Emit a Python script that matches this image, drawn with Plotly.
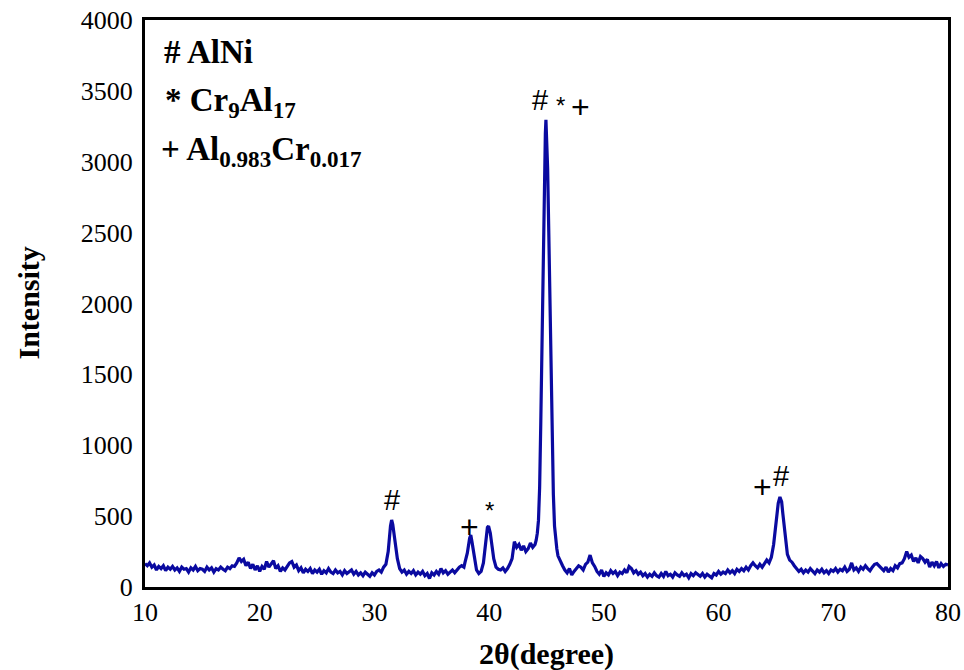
import plotly.graph_objects as go

two_theta = [
    10.0, 10.2, 10.4, 10.6, 10.8, 11.0, 11.2, 11.4, 11.6, 11.8,
    12.0, 12.2, 12.4, 12.6, 12.8, 13.0, 13.2, 13.4, 13.6, 13.8,
    14.0, 14.2, 14.4, 14.6, 14.8, 15.0, 15.2, 15.4, 15.6, 15.8,
    16.0, 16.2, 16.4, 16.6, 16.8, 17.0, 17.2, 17.4, 17.6, 17.8,
    18.0, 18.2, 18.4, 18.6, 18.8, 19.0, 19.2, 19.4, 19.6, 19.8,
    20.0, 20.2, 20.4, 20.6, 20.8, 21.0, 21.2, 21.4, 21.6, 21.8,
    22.0, 22.2, 22.4, 22.6, 22.8, 23.0, 23.2, 23.4, 23.6, 23.8,
    24.0, 24.2, 24.4, 24.6, 24.8, 25.0, 25.2, 25.4, 25.6, 25.8,
    26.0, 26.2, 26.4, 26.6, 26.8, 27.0, 27.2, 27.4, 27.6, 27.8,
    28.0, 28.2, 28.4, 28.6, 28.8, 29.0, 29.2, 29.4, 29.6, 29.8,
    30.0, 30.2, 30.4, 30.6, 30.8, 31.0, 31.2, 31.4, 31.5, 31.6,
    31.8, 32.0, 32.2, 32.4, 32.6, 32.8, 33.0, 33.2, 33.4, 33.6,
    33.8, 34.0, 34.2, 34.4, 34.6, 34.8, 35.0, 35.2, 35.4, 35.6,
    35.8, 36.0, 36.2, 36.4, 36.6, 36.8, 37.0, 37.2, 37.4, 37.6,
    37.8, 37.9, 38.1, 38.3, 38.4, 38.5, 38.7, 38.9, 39.1, 39.3,
    39.5, 39.7, 39.85, 39.95, 40.1, 40.25, 40.4, 40.6, 40.8, 41.0,
    41.2, 41.4, 41.6, 41.8, 42.0, 42.2, 42.4, 42.6, 42.8, 43.0,
    43.2, 43.4, 43.6, 43.8, 44.0, 44.1, 44.2, 44.3, 44.4, 44.5,
    44.6, 44.7, 44.8, 44.9, 44.95, 45.0, 45.05, 45.1, 45.2, 45.3,
    45.4, 45.5, 45.6, 45.7, 45.8, 45.9, 46.0, 46.2, 46.4, 46.6,
    46.8, 47.0, 47.2, 47.4, 47.6, 47.8, 48.0, 48.2, 48.4, 48.6,
    48.8, 49.0, 49.2, 49.4, 49.6, 49.8, 50.0, 50.2, 50.4, 50.6,
    50.8, 51.0, 51.2, 51.4, 51.6, 51.8, 52.0, 52.2, 52.4, 52.6,
    52.8, 53.0, 53.2, 53.4, 53.6, 53.8, 54.0, 54.2, 54.4, 54.6,
    54.8, 55.0, 55.2, 55.4, 55.6, 55.8, 56.0, 56.2, 56.4, 56.6,
    56.8, 57.0, 57.2, 57.4, 57.6, 57.8, 58.0, 58.2, 58.4, 58.6,
    58.8, 59.0, 59.2, 59.4, 59.6, 59.8, 60.0, 60.2, 60.4, 60.6,
    60.8, 61.0, 61.2, 61.4, 61.6, 61.8, 62.0, 62.2, 62.4, 62.6,
    62.8, 63.0, 63.2, 63.4, 63.6, 63.8, 64.0, 64.2, 64.4, 64.6,
    64.8, 65.0, 65.2, 65.35, 65.5, 65.6, 65.8, 66.0, 66.2, 66.4,
    66.6, 66.8, 67.0, 67.2, 67.4, 67.6, 67.8, 68.0, 68.2, 68.4,
    68.6, 68.8, 69.0, 69.2, 69.4, 69.6, 69.8, 70.0, 70.2, 70.4,
    70.6, 70.8, 71.0, 71.2, 71.4, 71.6, 71.8, 72.0, 72.2, 72.4,
    72.6, 72.8, 73.0, 73.2, 73.4, 73.6, 73.8, 74.0, 74.2, 74.4,
    74.6, 74.8, 75.0, 75.2, 75.4, 75.6, 75.8, 76.0, 76.2, 76.4,
    76.6, 76.8, 77.0, 77.2, 77.4, 77.6, 77.8, 78.0, 78.2, 78.4,
    78.6, 78.8, 79.0, 79.2, 79.4, 79.6, 79.8, 80.0,
]

intensity = [
    165, 150, 170, 140, 155, 120, 145, 130, 150, 115,
    140, 125, 145, 120, 135, 110, 140, 125, 130, 105,
    135, 120, 145, 115, 130, 125, 110, 140, 120, 135,
    105, 130, 120, 140, 125, 115, 140, 130, 150, 145,
    170, 205, 180, 195, 150, 175, 130, 160, 120, 150,
    110, 145, 125, 180, 140, 165, 185, 130, 150, 110,
    135, 120, 150, 170, 180, 140, 155, 115, 135, 100,
    125, 110, 130, 95, 120, 105, 125, 90, 115, 100,
    130, 105, 95, 120, 100, 110, 85, 115, 95, 105,
    120, 90, 110, 85, 100, 80, 105, 90, 75, 100,
    85, 110, 120, 105, 140, 160, 250, 430, 473, 440,
    300, 200, 130, 105, 120, 90, 110, 95, 115, 85,
    105, 90, 110, 80, 95, 60, 100, 85, 110, 90,
    130, 100, 115, 90, 105, 120, 100, 125, 140, 150,
    140, 175, 240, 345, 367, 320, 200, 120, 95, 110,
    170, 330, 420, 430, 380, 290, 200, 140, 125, 120,
    135, 110, 130, 160, 200, 320, 280, 300, 260, 290,
    250, 270, 310, 280, 300, 330, 380, 470, 700, 1150,
    1700, 2400, 2900, 3200, 3295, 3200, 3000, 2950, 2500, 2000,
    1500, 1000, 650, 430, 330, 270, 220, 180, 150, 120,
    100, 130, 85, 110, 130, 150, 140, 120, 160, 175,
    225, 170, 145, 110, 90, 120, 75, 100, 85, 115,
    95, 110, 80, 105, 95, 120, 100, 145, 130, 100,
    115, 90, 105, 80, 95, 70, 90, 75, 100, 80,
    70, 95, 75, 110, 80, 90, 70, 100, 85, 75,
    100, 80, 90, 65, 95, 80, 100, 85, 75, 95,
    70, 90, 80, 65, 95, 85, 110, 90, 105, 95,
    120, 100, 115, 95, 125, 110, 130, 115, 140, 120,
    150, 170, 150, 135, 160, 140, 165, 190, 170, 210,
    300, 430, 590, 635, 600, 520, 350, 230, 190, 175,
    150, 130, 110, 125, 100, 120, 105, 130, 110, 95,
    120, 105, 125, 100, 115, 95, 120, 110, 130, 105,
    125, 115, 140, 110, 125, 170, 120, 135, 110, 140,
    125, 150, 130, 115, 140, 160, 165, 150, 130, 115,
    140, 105, 130, 115, 150, 135, 165, 170, 200, 250,
    210, 225, 180, 205, 170, 215, 200, 175, 195, 140,
    175, 150, 180, 135, 165, 145, 160, 155,
]

assert len(two_theta) == len(intensity)

peak_labels = ["#", "+", "*", "#", "*", "+", "+", "#"]
peak_x = [31.5, 38.3, 40.0, 44.45, 46.25, 48.0, 63.8, 65.45]
peak_y = [614, 423, 543, 3436, 3400, 3386, 705, 783]
peak_sizes = [29, 32, 24, 29, 24, 32, 32, 29]

legend_lines = [
    "<b># AlNi</b>",
    "<b>* Cr<sub>9</sub>Al<sub>17</sub></b>",
    "<b>+ Al<sub>0.983</sub>Cr<sub>0.017</sub></b>",
]
legend_x = [11.5, 11.6, 11.2]
legend_y = [3775, 3420, 3075]

x_title = "<b>2θ(degree)</b>"
y_title = "<b>Intensity</b>"

SERIF = "Liberation Serif, Times New Roman, DejaVu Serif, serif"
SANS = "Liberation Sans, Arial, DejaVu Sans, sans-serif"

fig = go.Figure()
fig.add_trace(go.Scatter(
    x=two_theta, y=intensity, mode="lines",
    line=dict(color="#0a0aa0", width=3.2),
    showlegend=False,
))

for t, x, y, s in zip(peak_labels, peak_x, peak_y, peak_sizes):
    fig.add_annotation(x=x, y=y, text=t, showarrow=False,
                       font=dict(family=SANS, size=s, color="black"))

for t, x, y in zip(legend_lines, legend_x, legend_y):
    fig.add_annotation(x=x, y=y, text=t, showarrow=False, xanchor="left",
                       font=dict(family=SERIF, size=33, color="black"))

fig.add_annotation(xref="paper", yref="paper", x=0.5, y=-0.118,
                   xanchor="center", yanchor="middle", text=x_title,
                   showarrow=False,
                   font=dict(family=SERIF, size=30, color="black"))
fig.add_annotation(xref="paper", yref="paper", x=-0.1457, y=0.5,
                   xanchor="center", yanchor="middle", text=y_title,
                   textangle=-90, showarrow=False,
                   font=dict(family=SERIF, size=30, color="black"))

axis_common = dict(
    showline=True, linecolor="black", linewidth=3, mirror=True,
    showgrid=False, zeroline=False, ticks="", automargin=False,
    ticklabeloverflow="allow",
    tickfont=dict(family=SERIF, size=26, color="black"),
)

fig.update_layout(
    width=964, height=670,
    margin=dict(l=145, r=16, t=20, b=83),
    paper_bgcolor="white", plot_bgcolor="white",
    font=dict(family=SERIF),
    xaxis=dict(range=[10, 80], dtick=10, **axis_common),
    yaxis=dict(range=[0, 4000], dtick=500, ticklabelstandoff=4, **axis_common),
)

fig.write_html("out.html")
